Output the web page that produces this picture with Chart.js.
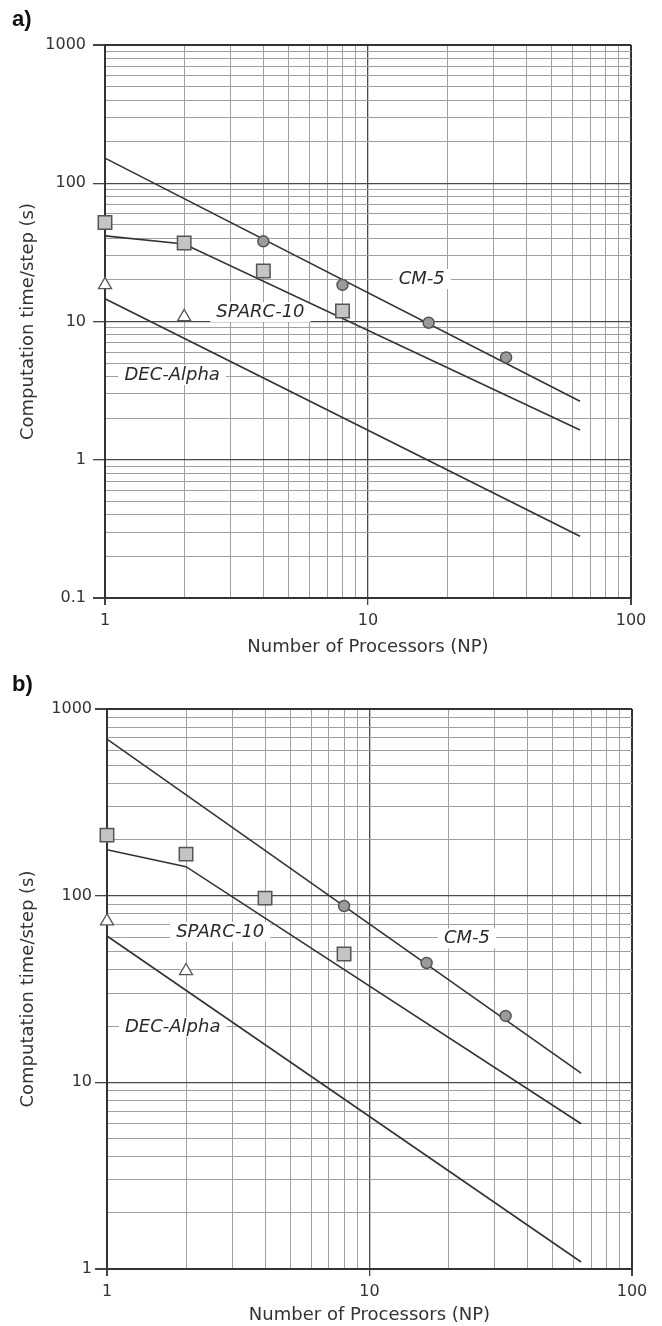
<!DOCTYPE html>
<html>
<head>
<meta charset="utf-8">
<script src="https://cdn.jsdelivr.net/npm/chart.js@4"></script>
<style>
  body { margin: 0; background: #fff; }
  .panel { position: absolute; left: 0; width: 662px; height: 663px; }
  .tag { position: absolute; left: 12px; font: bold 22px "Liberation Sans", Arial, sans-serif; color: #111; }
</style>
</head>
<body>
<div class="panel" style="top:0"><canvas id="chartA" width="662" height="663"></canvas></div>
<div class="panel" style="top:663px"><canvas id="chartB" width="662" height="663"></canvas></div>
<div class="tag" style="top:6px">a)</div>
<div class="tag" style="top:671px">b)</div>
<script>
// panel a) data
const cm5ProcsA = [4, 8, 17, 33.5];
const cm5TimesA = [38, 18.4, 9.8, 5.5];
const sparcProcsA = [1, 2, 4, 8];
const sparcTimesA = [52, 37, 23.2, 11.9];
const decProcsA = [1, 2];
const decTimesA = [18.4, 10.8];
const cm5FitProcsA = [1, 64];
const cm5FitTimesA = [152, 2.65];
const sparcFitProcsA = [1, 2, 64];
const sparcFitTimesA = [41.6, 36.4, 1.64];
const decFitProcsA = [1, 64];
const decFitTimesA = [14.6, 0.28];

// panel b) data
const cm5ProcsB = [8, 16.5, 33];
const cm5TimesB = [88, 43.6, 22.7];
const sparcProcsB = [1, 2, 4, 8];
const sparcTimesB = [211, 167, 97, 48.7];
const decProcsB = [1, 2];
const decTimesB = [73, 39.5];
const cm5FitProcsB = [1, 64];
const cm5FitTimesB = [690, 11.2];
const sparcFitProcsB = [1, 2, 64];
const sparcFitTimesB = [176, 143, 6.0];
const decFitProcsB = [1, 64];
const decFitTimesB = [60.8, 1.09];

// tick values (decades with 2..9 subdivisions)
const xTicks = [1, 2, 3, 4, 5, 6, 7, 8, 9, 10, 20, 30, 40, 50, 60, 70, 80, 90, 100];
const yTicksA = [0.1, 0.2, 0.3, 0.4, 0.5, 0.6, 0.7, 0.8, 0.9,
                 1, 2, 3, 4, 5, 6, 7, 8, 9,
                 10, 20, 30, 40, 50, 60, 70, 80, 90,
                 100, 200, 300, 400, 500, 600, 700, 800, 900, 1000];
const yTicksB = yTicksA.slice(9);

const machineNames = ['CM-5', 'SPARC-10', 'DEC-Alpha'];

const pts = (xs, ys) => xs.map((x, i) => ({ x: x, y: ys[i] }));
const isPow10 = v => Math.abs(Math.log10(v) - Math.round(Math.log10(v))) < 1e-9;

const labelPlugin = {
  id: 'machineLabels',
  beforeDatasetsDraw(chart, args, opts) {
    const ctx = chart.ctx;
    ctx.save();
    ctx.font = 'italic 18px "DejaVu Sans"';
    ctx.textAlign = 'center';
    ctx.textBaseline = 'middle';
    opts.items.forEach(it => {
      const px = chart.scales.x.getPixelForValue(it.x);
      const py = chart.scales.y.getPixelForValue(it.y);
      const w = ctx.measureText(it.text).width;
      ctx.fillStyle = '#fff';
      ctx.fillRect(px - w / 2 - 6, py - 10, w + 12, 20);
      ctx.fillStyle = '#2a2a2a';
      ctx.fillText(it.text, px, py);
    });
    ctx.restore();
  }
};

function makeChart(id, d) {
  const lineStyle = { showLine: true, pointRadius: 0, borderColor: '#333', borderWidth: 1.6, clip: false };
  new Chart(document.getElementById(id), {
    type: 'scatter',
    data: {
      datasets: [
        { data: pts(d.cm5X, d.cm5Y), pointStyle: 'circle', pointRadius: 5.5,
          backgroundColor: '#9b9b9b', borderColor: '#555', borderWidth: 1.5, clip: false },
        { data: pts(d.sparcX, d.sparcY), pointStyle: 'rect', pointRadius: 9.5,
          backgroundColor: '#c4c4c4', borderColor: '#555', borderWidth: 1.5, clip: false },
        { data: pts(d.decX, d.decY), pointStyle: 'triangle', pointRadius: 7.5,
          backgroundColor: '#fff', borderColor: '#555', borderWidth: 1.3, clip: false },
        Object.assign({ data: pts(d.cm5FitX, d.cm5FitY) }, lineStyle),
        Object.assign({ data: pts(d.sparcFitX, d.sparcFitY) }, lineStyle),
        Object.assign({ data: pts(d.decFitX, d.decFitY) }, lineStyle)
      ]
    },
    options: {
      responsive: false,
      animation: false,
      devicePixelRatio: 1,
      layout: { padding: { top: d.padTop, right: d.padRight, left: 0, bottom: 0 } },
      plugins: {
        legend: { display: false },
        tooltip: { enabled: false },
        machineLabels: { items: d.labels }
      },
      scales: {
        x: {
          type: 'logarithmic', min: 1, max: 100,
          afterBuildTicks: s => { s.ticks = xTicks.map(v => ({ value: v })); },
          afterFit: s => { s.height = d.xAxisHeight; },
          border: { display: true, color: '#333', width: 2 },
          grid: {
            color: c => (c.tick.value === 1 || c.tick.value === 100) ? '#333' : (isPow10(c.tick.value) ? '#4a4a4a' : '#a0a0a0'),
            lineWidth: c => (c.tick.value === 1 || c.tick.value === 100) ? 2 : (isPow10(c.tick.value) ? 1.3 : 1),
            tickColor: c => isPow10(c.tick.value) ? '#444' : 'rgba(0,0,0,0)',
            tickLength: 7
          },
          ticks: {
            autoSkip: false, maxRotation: 0, padding: 6, color: '#333',
            font: { family: 'DejaVu Sans', size: 16 },
            callback: v => isPow10(v) ? String(v) : ''
          },
          title: {
            display: true, text: 'Number of Processors (NP)', color: '#333',
            font: { family: 'DejaVu Sans', size: 18 },
            padding: { top: d.xTitlePad, bottom: d.xTitlePad }
          }
        },
        y: {
          type: 'logarithmic', min: d.yMin, max: 1000,
          afterBuildTicks: s => { s.ticks = d.yTicks.map(v => ({ value: v })); },
          afterFit: s => { s.width = d.yAxisWidth; },
          border: { display: true, color: '#333', width: 2 },
          grid: {
            color: c => (c.tick.value === d.yMin || c.tick.value === 1000) ? '#333' : (isPow10(c.tick.value) ? '#4a4a4a' : '#a0a0a0'),
            lineWidth: c => (c.tick.value === d.yMin || c.tick.value === 1000) ? 2 : (isPow10(c.tick.value) ? 1.3 : 1),
            tickColor: c => isPow10(c.tick.value) ? '#444' : 'rgba(0,0,0,0)',
            tickLength: 12
          },
          ticks: {
            autoSkip: false, padding: d.yTickPad, color: '#333',
            font: { family: 'DejaVu Sans', size: 16 },
            callback: v => isPow10(v) ? String(v) : ''
          },
          title: {
            display: true, text: 'Computation time/step (s)', color: '#333',
            font: { family: 'DejaVu Sans', size: 18 },
            padding: { top: 18, bottom: 18 }
          }
        }
      }
    },
    plugins: [labelPlugin]
  });
}

makeChart('chartA', {
  cm5X: cm5ProcsA, cm5Y: cm5TimesA,
  sparcX: sparcProcsA, sparcY: sparcTimesA,
  decX: decProcsA, decY: decTimesA,
  cm5FitX: cm5FitProcsA, cm5FitY: cm5FitTimesA,
  sparcFitX: sparcFitProcsA, sparcFitY: sparcFitTimesA,
  decFitX: decFitProcsA, decFitY: decFitTimesA,
  yMin: 0.1, yTicks: yTicksA,
  padTop: 45, padRight: 31, xAxisHeight: 65, yAxisWidth: 105,
  xTitlePad: 5, yTickPad: 7,
  labels: [
    { text: machineNames[0], x: 16, y: 20.3 },
    { text: machineNames[1], x: 3.9, y: 11.7 },
    { text: machineNames[2], x: 1.8, y: 4.1 }
  ]
});

makeChart('chartB', {
  cm5X: cm5ProcsB, cm5Y: cm5TimesB,
  sparcX: sparcProcsB, sparcY: sparcTimesB,
  decX: decProcsB, decY: decTimesB,
  cm5FitX: cm5FitProcsB, cm5FitY: cm5FitTimesB,
  sparcFitX: sparcFitProcsB, sparcFitY: sparcFitTimesB,
  decFitX: decFitProcsB, decFitY: decFitTimesB,
  yMin: 1, yTicks: yTicksB,
  padTop: 46, padRight: 30, xAxisHeight: 57, yAxisWidth: 107,
  xTitlePad: 0, yTickPad: 3,
  labels: [
    { text: machineNames[0], x: 23.5, y: 59 },
    { text: machineNames[1], x: 2.7, y: 64 },
    { text: machineNames[2], x: 1.78, y: 19.8 }
  ]
});
</script>
</body>
</html>
